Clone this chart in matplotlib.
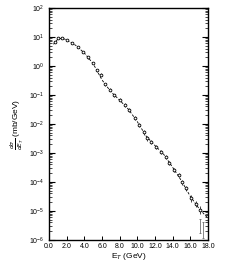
import matplotlib
matplotlib.use("Agg")
import matplotlib.pyplot as plt
import numpy as np
from matplotlib.ticker import LogLocator, FixedLocator, NullFormatter

plt.rcParams['font.family'] = ['Liberation Sans', 'DejaVu Sans']
plt.rcParams['mathtext.fontset'] = 'dejavusans'
plt.rcParams['xtick.direction'] = 'in'
plt.rcParams['ytick.direction'] = 'in'

# measured points (E_T in GeV, dsigma/dE_T in mb/GeV)
et_pts = [0.68, 1.0, 1.46, 2.0, 2.6, 3.3, 3.9, 4.4, 4.95, 5.4, 5.85, 6.3, 6.86,
          7.4, 8.0, 8.55, 9.1, 9.7, 10.2, 10.8, 11.1, 11.6, 12.15, 12.7, 13.3,
          13.6, 14.2, 14.7, 15.1, 15.5, 16.1, 16.6, 17.1]
sig_pts = [6.8, 8.9, 9.3, 7.6, 6.2, 4.6, 3.0, 2.0, 1.25, 0.72, 0.5, 0.23, 0.15,
           0.10, 0.068, 0.046, 0.030, 0.016, 9.3e-3, 5.2e-3, 3.3e-3, 2.4e-3,
           1.6e-3, 1.07e-3, 7.2e-4, 4.6e-4, 2.6e-4, 1.74e-4, 1.0e-4, 6.2e-5,
           2.8e-5, 1.8e-5, 1.1e-5]
err_frac = [0.08, 0.08, 0.08, 0.08, 0.08, 0.08, 0.1, 0.1, 0.1, 0.12, 0.12, 0.12,
            0.12, 0.12, 0.12, 0.14, 0.14, 0.14, 0.15, 0.2, 0.2, 0.15, 0.15, 0.15,
            0.15, 0.15, 0.18, 0.18, 0.2, 0.2, 0.25, 0.25, 0.3]

# last points with large errors
et_tail = [17.05, 17.4]
sig_tail = [3.2e-6, 2.4e-6]
err_tail_lo = [1.5e-6, 1.2e-6]
err_tail_hi = [2.2e-6, 1.8e-6]

# fitted curve
et_fit = [0.5, 1.0, 1.5, 2.0, 3.0, 4.0, 5.0, 6.0, 7.0, 8.0, 9.0, 10.0, 11.0,
          12.0, 13.0, 14.0, 15.0, 16.0, 17.0, 18.0]
sig_fit = [5.6, 8.5, 9.1, 7.9, 5.2, 2.8, 1.2, 0.33, 0.13, 0.066, 0.032, 0.012,
           3.8e-3, 1.8e-3, 8.9e-4, 3.2e-4, 1.1e-4, 3.2e-5, 1.2e-5, 5.6e-6]

x_ticks = [0, 2, 4, 6, 8, 10, 12, 14, 16, 18]

fig = plt.figure(figsize=(2.49, 2.66), dpi=100)
ax = fig.add_axes([0.197, 0.098, 0.638, 0.872])

ax.plot(et_fit, sig_fit, color='black', lw=0.6, dashes=(3, 2))
ax.errorbar(et_pts, sig_pts, yerr=np.array(sig_pts) * np.array(err_frac),
            fmt='o', ms=2.0, mfc='white', mec='black', mew=0.6,
            ecolor='black', elinewidth=0.5, capsize=0)
ax.errorbar(et_tail, sig_tail, yerr=[err_tail_lo, err_tail_hi], fmt='none',
            ecolor='#555555', elinewidth=0.5, capsize=1.0, capthick=0.5)

ax.set_yscale('log')
ax.set_ylim(1e-6, 1e2)
ax.set_xlim(0, 18)
ax.xaxis.set_major_locator(FixedLocator(x_ticks))
ax.set_xticklabels(['%.1f' % v for v in x_ticks], fontsize=5)
ax.yaxis.set_major_locator(LogLocator(base=10, numticks=20))
ax.yaxis.set_minor_locator(LogLocator(base=10, subs=np.arange(2, 10), numticks=20))
ax.yaxis.set_minor_formatter(NullFormatter())
ax.tick_params(axis='y', which='both', left=True, right=True, labelsize=5)
ax.tick_params(axis='y', which='major', length=4, width=0.8)
ax.tick_params(axis='y', which='minor', length=2, width=0.5)
ax.tick_params(axis='x', which='major', length=3, width=0.7, top=False, pad=2)
for s in ax.spines.values():
    s.set_linewidth(1.0)

ax.set_xlabel(r'E$_T$ (GeV)', fontsize=6, labelpad=1)
ax.set_ylabel(r'$\frac{d\sigma}{dE_T}$ (mb/GeV)', fontsize=6, labelpad=2)

plt.savefig('out.png', dpi=100)
